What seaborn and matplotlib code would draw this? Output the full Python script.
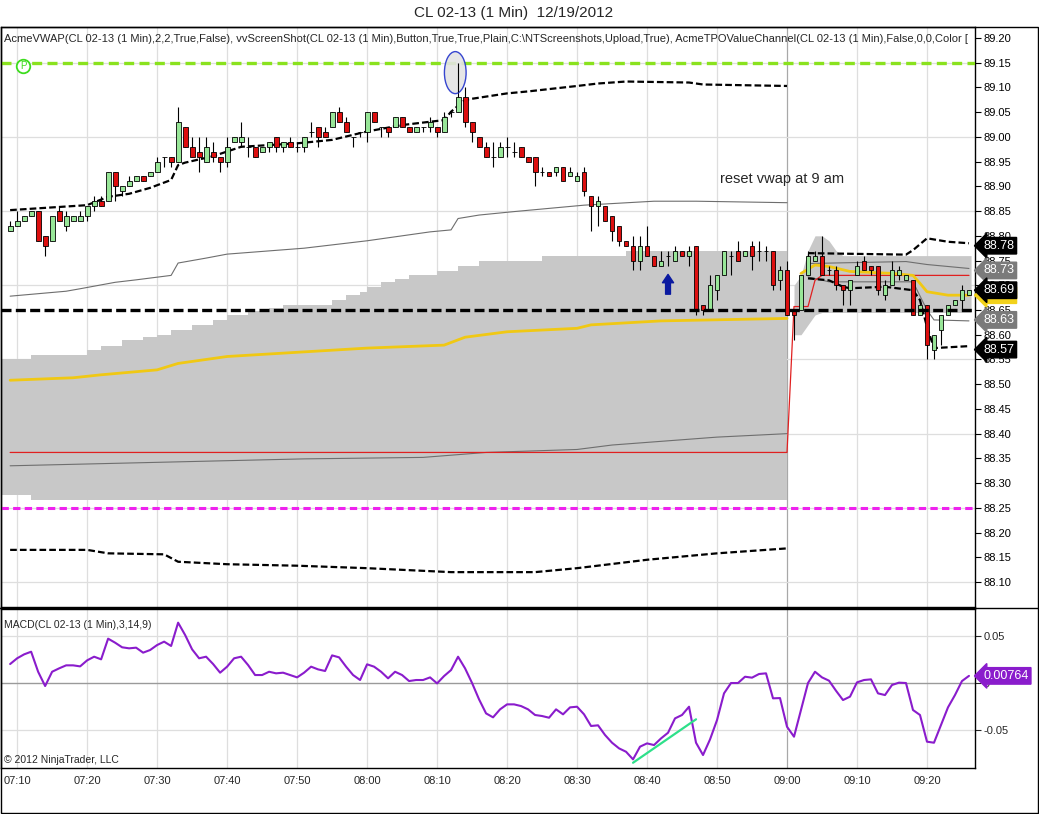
import matplotlib
matplotlib.use("Agg")
import matplotlib.pyplot as plt
import seaborn as sns
from matplotlib.patches import Ellipse, Rectangle
from matplotlib.lines import Line2D

sns.set_style("white")
plt.rcParams['font.family'] = ['Liberation Sans', 'DejaVu Sans']

# one bar per minute, minutes after 07:00 (07:09 .. 09:26)
minute = list(range(9, 147))

opens = [88.81, 88.82, 88.83, 88.84, 88.85, 88.80, 88.79, 88.85, 88.82, 88.83,
         88.83, 88.84, 88.86, 88.87, 88.87, 88.93, 88.89, 88.90, 88.91, 88.92,
         88.92, 88.93, 88.96, 88.96, 88.95, 89.02, 88.98, 88.97, 88.95, 88.97,
         88.96, 88.95, 88.99, 88.99, 88.98, 88.98, 88.97, 88.98, 89.00, 88.98,
         88.99, 88.98, 88.98, 89.01, 89.02, 89.01, 89.02, 89.05, 89.03, 89.00,
         89.01, 89.01, 89.05, 89.02, 89.02, 89.02, 89.04, 89.02, 89.01, 89.02,
         89.02, 89.02, 89.01, 89.05, 89.05, 89.08, 89.03, 89.00, 88.98, 88.96,
         88.96, 88.98, 88.97, 88.98, 88.96, 88.96, 88.93, 88.93, 88.93, 88.94,
         88.92, 88.91, 88.93, 88.88, 88.86, 88.86, 88.84, 88.82, 88.79, 88.78,
         88.75, 88.78, 88.76, 88.74, 88.76, 88.75, 88.77, 88.76, 88.78, 88.66,
         88.65, 88.69, 88.72, 88.76, 88.77, 88.76, 88.78, 88.77, 88.77, 88.77,
         88.71, 88.73, 88.65, 88.65, 88.72, 88.75, 88.76, 88.73, 88.73, 88.70,
         88.69, 88.72, 88.75, 88.74, 88.74, 88.68, 88.70, 88.72, 88.71, 88.71,
         88.64, 88.66, 88.57, 88.61, 88.64, 88.66, 88.67, 88.68]
highs = [88.83, 88.85, 88.84, 88.85, 88.85, 88.80, 88.84, 88.86, 88.85, 88.84,
         88.85, 88.86, 88.88, 88.88, 88.93, 88.93, 88.90, 88.92, 88.92, 88.92,
         88.93, 88.96, 88.96, 88.96, 89.06, 89.02, 89.00, 89.00, 89.00, 88.99,
         88.96, 89.00, 89.00, 89.03, 89.00, 88.98, 88.98, 88.99, 89.00, 88.99,
         89.00, 88.99, 89.00, 89.03, 89.02, 89.02, 89.05, 89.06, 89.04, 89.00,
         89.01, 89.05, 89.05, 89.02, 89.02, 89.04, 89.04, 89.02, 89.02, 89.02,
         89.04, 89.02, 89.05, 89.05, 89.15, 89.10, 89.03, 89.00, 88.99, 88.99,
         88.99, 89.00, 88.99, 88.98, 88.96, 88.96, 88.94, 88.93, 88.94, 88.94,
         88.94, 88.93, 88.94, 88.88, 88.88, 88.86, 88.84, 88.82, 88.79, 88.80,
         88.80, 88.82, 88.76, 88.77, 88.77, 88.78, 88.77, 88.78, 88.78, 88.66,
         88.72, 88.72, 88.77, 88.77, 88.79, 88.77, 88.79, 88.79, 88.78, 88.77,
         88.74, 88.75, 88.65, 88.72, 88.77, 88.77, 88.80, 88.74, 88.74, 88.70,
         88.71, 88.75, 88.76, 88.74, 88.74, 88.71, 88.75, 88.74, 88.72, 88.71,
         88.66, 88.66, 88.60, 88.64, 88.66, 88.67, 88.70, 88.69]
lows = [88.81, 88.82, 88.83, 88.84, 88.79, 88.76, 88.79, 88.83, 88.81, 88.83,
        88.83, 88.83, 88.85, 88.86, 88.87, 88.87, 88.88, 88.90, 88.91, 88.91,
        88.92, 88.93, 88.94, 88.94, 88.95, 88.98, 88.96, 88.93, 88.95, 88.95,
        88.93, 88.94, 88.99, 88.98, 88.96, 88.96, 88.97, 88.97, 88.97, 88.97,
        88.98, 88.97, 88.97, 89.00, 88.98, 89.00, 89.02, 89.03, 89.01, 88.98,
        89.00, 88.99, 89.03, 89.00, 89.00, 89.02, 89.02, 89.01, 89.01, 89.01,
        89.01, 89.00, 89.01, 89.04, 89.05, 89.02, 88.99, 88.98, 88.96, 88.94,
        88.96, 88.96, 88.96, 88.96, 88.95, 88.90, 88.92, 88.92, 88.92, 88.91,
        88.92, 88.91, 88.88, 88.81, 88.82, 88.83, 88.79, 88.78, 88.78, 88.73,
        88.73, 88.76, 88.74, 88.74, 88.74, 88.75, 88.76, 88.74, 88.64, 88.64,
        88.65, 88.67, 88.72, 88.72, 88.75, 88.76, 88.73, 88.75, 88.75, 88.69,
        88.69, 88.64, 88.59, 88.65, 88.72, 88.75, 88.72, 88.72, 88.69, 88.66,
        88.66, 88.72, 88.73, 88.72, 88.68, 88.67, 88.70, 88.71, 88.71, 88.64,
        88.64, 88.55, 88.55, 88.58, 88.64, 88.66, 88.65, 88.68]
closes = [88.82, 88.83, 88.84, 88.85, 88.79, 88.78, 88.84, 88.83, 88.84, 88.84,
          88.84, 88.86, 88.87, 88.86, 88.93, 88.90, 88.90, 88.91, 88.92, 88.91,
          88.93, 88.95, 88.96, 88.95, 89.03, 88.98, 88.96, 88.96, 88.98, 88.96,
          88.95, 88.98, 89.00, 89.00, 88.98, 88.96, 88.98, 88.99, 88.98, 88.99,
          88.98, 88.98, 89.00, 89.01, 89.00, 89.00, 89.05, 89.03, 89.01, 89.00,
          89.01, 89.05, 89.03, 89.02, 89.01, 89.04, 89.02, 89.01, 89.02, 89.02,
          89.03, 89.01, 89.04, 89.05, 89.08, 89.03, 89.01, 88.98, 88.96, 88.96,
          88.98, 88.98, 88.97, 88.96, 88.95, 88.93, 88.93, 88.92, 88.94, 88.91,
          88.93, 88.92, 88.89, 88.86, 88.87, 88.83, 88.81, 88.79, 88.78, 88.75,
          88.78, 88.76, 88.74, 88.75, 88.76, 88.77, 88.76, 88.77, 88.65, 88.65,
          88.70, 88.72, 88.77, 88.76, 88.75, 88.77, 88.76, 88.77, 88.77, 88.70,
          88.73, 88.64, 88.64, 88.72, 88.76, 88.76, 88.72, 88.73, 88.70, 88.69,
          88.71, 88.74, 88.73, 88.73, 88.69, 88.70, 88.73, 88.73, 88.72, 88.64,
          88.66, 88.58, 88.60, 88.64, 88.66, 88.67, 88.69, 88.69]

macd = [0.0202, 0.0263, 0.0305, 0.0333, 0.0120, -0.0032, 0.0120, 0.0156, 0.0188, 0.0188,
        0.0177, 0.0241, 0.0280, 0.0252, 0.0472, 0.0429, 0.0380, 0.0369, 0.0376, 0.0323,
        0.0351, 0.0404, 0.0440, 0.0394, 0.0642, 0.0511, 0.0358, 0.0263, 0.0280, 0.0202,
        0.0110, 0.0174, 0.0263, 0.0280, 0.0191, 0.0085, 0.0085, 0.0120, 0.0103, 0.0110,
        0.0085, 0.0060, 0.0110, 0.0174, 0.0145, 0.0128, 0.0294, 0.0273, 0.0174, 0.0085,
        0.0032, 0.0199, 0.0174, 0.0120, 0.0050, 0.0120, 0.0085, 0.0021, 0.0032, 0.0032,
        0.0060, -0.0004, 0.0074, 0.0138, 0.0280, 0.0156, 0.0000, -0.0174, -0.0323, -0.0365,
        -0.0280, -0.0227, -0.0227, -0.0245, -0.0280, -0.0340, -0.0351, -0.0369, -0.0280, -0.0333,
        -0.0259, -0.0252, -0.0333, -0.0457, -0.0450, -0.0553, -0.0635, -0.0695, -0.0731, -0.0812,
        -0.0677, -0.0642, -0.0660, -0.0589, -0.0529, -0.0376, -0.0340, -0.0252, -0.0635, -0.0766,
        -0.0600, -0.0394, -0.0110, 0.0000, 0.0000, 0.0067, 0.0057, 0.0096, 0.0103, -0.0163,
        -0.0160, -0.0465, -0.0571, -0.0287, 0.0000, 0.0120, 0.0060, 0.0025, -0.0082, -0.0181,
        -0.0145, 0.0007, 0.0032, 0.0039, -0.0110, -0.0128, -0.0021, 0.0004, 0.0000, -0.0287,
        -0.0340, -0.0624, -0.0635, -0.0447, -0.0259, -0.0128, 0.0021, 0.0076]

# session 1 vwap channel (vertices)
upper1_x = [9, 20, 23, 26, 29, 32, 33, 34, 38, 42, 50, 55, 60, 65, 71, 72, 74, 80, 83, 90, 93, 97, 106, 108, 120]
upper1_y = [88.852, 88.862, 88.879, 88.885, 88.897, 88.913, 88.943, 88.948, 88.961, 88.980, 88.987, 88.994,
            89.011, 89.024, 89.034, 89.051, 89.075, 89.088, 89.092, 89.103, 89.108, 89.112, 89.110, 89.106, 89.103]
lower1_x = [9, 20, 23, 31, 33, 40, 50, 60, 72, 84, 90, 100, 110, 120]
lower1_y = [88.165, 88.165, 88.158, 88.156, 88.141, 88.136, 88.133, 88.128, 88.120, 88.120, 88.128, 88.145, 88.158, 88.168]
thin_up1_x = [9, 17, 19, 24, 27, 32, 33, 37, 40, 51, 60, 69, 72, 73, 76, 81, 91, 101, 107, 120]
thin_up1_y = [88.678, 88.688, 88.693, 88.706, 88.711, 88.720, 88.745, 88.755, 88.763, 88.775, 88.790, 88.808,
              88.812, 88.835, 88.842, 88.849, 88.862, 88.870, 88.870, 88.867]
thin_lo1_x = [9, 21, 30, 51, 68, 77, 90, 95, 110, 120]
thin_lo1_y = [88.335, 88.339, 88.342, 88.349, 88.352, 88.362, 88.368, 88.377, 88.393, 88.400]
vwap1_x = [9, 18, 22, 30, 33, 40, 60, 71, 74, 80, 90, 92, 102, 120]
vwap1_y = [88.508, 88.513, 88.519, 88.529, 88.542, 88.556, 88.573, 88.579, 88.595, 88.606, 88.613, 88.620, 88.628, 88.633]
band1_x = [7.5, 12, 20, 22, 25, 28, 30, 32, 35, 38, 40, 43, 46, 48, 55, 57, 59, 60, 62, 64, 66, 70, 73, 76, 85, 97, 120]
band1_top = [88.551, 88.560, 88.569, 88.577, 88.589, 88.595, 88.600, 88.610, 88.620, 88.630, 88.640, 88.648, 88.655,
             88.660, 88.670, 88.680, 88.687, 88.697, 88.707, 88.713, 88.720, 88.728, 88.740, 88.750, 88.759, 88.769, 88.769]
band1_bot = [88.275] + [88.265] * 26

# session 2 (reset at 09:00)
red_x = [9, 120, 121, 123, 124, 125, 146]
red_y = [88.362, 88.362, 88.657, 88.657, 88.710, 88.720, 88.720]
vwap2_x = [122, 124, 126, 129, 135, 138, 139, 140, 143, 146]
vwap2_y = [88.724, 88.741, 88.738, 88.728, 88.724, 88.720, 88.704, 88.687, 88.680, 88.680]
upper2_x = [123, 137, 138, 140, 143, 146]
upper2_y = [88.765, 88.762, 88.771, 88.795, 88.788, 88.785]
lower2_x = [123, 126, 128, 129, 134, 138, 139, 140, 141, 146]
lower2_y = [88.714, 88.710, 88.697, 88.694, 88.697, 88.690, 88.670, 88.616, 88.573, 88.577]
thin_up2_x = [123, 137, 140, 146]
thin_up2_y = [88.744, 88.748, 88.742, 88.734]
thin_lo2_x = [123, 126, 138, 140, 141, 146]
thin_lo2_y = [88.717, 88.707, 88.707, 88.650, 88.630, 88.628]
band2_x = [121, 122, 123, 124, 125, 126, 127, 128, 146.3]
band2_top = [88.70, 88.72, 88.77, 88.80, 88.80, 88.79, 88.77, 88.76, 88.76]
band2_bot = [88.60, 88.60, 88.62, 88.64, 88.645, 88.645, 88.645, 88.645, 88.645]

tpo_high = 89.15
tpo_low = 88.25
tpo_poc = 88.65

tag_levels = [88.68, 88.78, 88.73, 88.69, 88.63, 88.57]
tag_texts = ['88.68', '88.78', '88.73', '88.69', '88.63', '88.57']
tag_colors = ['#f2d21b', 'black', '#7a7a7a', 'black', '#7a7a7a', 'black']

tick_minutes = [10, 20, 30, 40, 50, 60, 70, 80, 90, 100, 110, 120, 130, 140]
tick_labels = ['07:10', '07:20', '07:30', '07:40', '07:50', '08:00', '08:10',
               '08:20', '08:30', '08:40', '08:50', '09:00', '09:10', '09:20']
price_ticks = [88.10, 88.15, 88.20, 88.25, 88.30, 88.35, 88.40, 88.45, 88.50, 88.55, 88.60, 88.65,
               88.70, 88.75, 88.80, 88.85, 88.90, 88.95, 89.00, 89.05, 89.10, 89.15, 89.20]
grid_levels = [88.10, 88.25, 88.40, 88.55, 88.70, 88.85, 89.00, 89.15]

# the label line is cut off by the price scale in the original
indicator_text = ("AcmeVWAP(CL 02-13 (1 Min),2,2,True,False), vvScreenShot(CL 02-13 (1 Min),Button,True,True,"
                  "Plain,C:\\NTScreenshots,Upload,True), AcmeTPOValueChannel(CL 02-13 (1 Min),False,0,0,Color [")


fig = plt.figure(figsize=(10.39, 8.14), dpi=100)
ax = fig.add_axes([0.001, 0.2543, 0.9374, 0.7125])
mx = fig.add_axes([0.001, 0.0565, 0.9374, 0.1953], sharex=ax)

for a in (ax, mx):
    for t in tick_minutes:
        a.axvline(t, color='#a8a8a8' if t == 120 else '#dedede', lw=0.9, zorder=0)
for g in grid_levels:
    ax.axhline(g, color='#dedede', lw=0.9, zorder=0)

# value area bands
ax.fill_between(band1_x, band1_bot, band1_top, step='post', color='#c8c8c8', lw=0, zorder=1)
ax.fill_between(band2_x, band2_bot, band2_top, color='#c8c8c8', lw=0, zorder=1)

line_kw = dict(ax=ax, estimator=None, sort=False, legend=False)
for xs, ys in [(thin_up1_x, thin_up1_y), (thin_lo1_x, thin_lo1_y), (thin_up2_x, thin_up2_y), (thin_lo2_x, thin_lo2_y)]:
    sns.lineplot(x=xs, y=ys, color='#6e6e6e', lw=0.8, zorder=2, **line_kw)
sns.lineplot(x=red_x, y=red_y, color='#e02020', lw=0.9, zorder=2, **line_kw)
for xs, ys in [(vwap1_x, vwap1_y), (vwap2_x, vwap2_y)]:
    sns.lineplot(x=xs, y=ys, color='#f0c814', lw=2.0, zorder=2, **line_kw)
for xs, ys in [(upper1_x, upper1_y), (lower1_x, lower1_y), (upper2_x, upper2_y), (lower2_x, lower2_y)]:
    sns.lineplot(x=xs, y=ys, color='black', lw=1.6, linestyle=(0, (3, 1.4)), zorder=3, **line_kw)

# candles
for m, o, h, l, c in zip(minute, opens, highs, lows, closes):
    ax.vlines(m, l, h, color='black', lw=0.8, zorder=4)
    col = '#98e698' if c >= o else '#dd0f0f'
    ax.bar(m, c - o, bottom=o, width=0.7, color=col, edgecolor='black', lw=0.6, zorder=5)

ax.axhline(tpo_high, color='#8ae21e', lw=2.4, linestyle=(0, (3, 1.6)), zorder=6)
ax.axhline(tpo_low, color='#ee22ee', lw=2.2, linestyle=(0, (2.4, 1.4)), zorder=6)
ax.axhline(tpo_poc, color='black', lw=2.4, linestyle=(0, (3, 1.3)), zorder=6)

ax.add_patch(Ellipse((72.6, 89.13), 3.1, 0.085, fc='#e4e4e4', ec='#2233cc', lw=1, alpha=0.9, zorder=7))
ax.vlines(73, 89.09, 89.15, color='black', lw=0.8, zorder=7)
ax.annotate('', xy=(103, 88.722), xytext=(103, 88.682),
            arrowprops=dict(facecolor='#0b1aa0', edgecolor='#0b1aa0', width=3.5, headwidth=8, headlength=6),
            zorder=8)
ax.scatter([10.9], [89.143], s=95, facecolors='white', edgecolors='#3ddc1e', lw=1.3, zorder=8)
ax.text(10.9, 89.143, 'P', color='#3ddc1e', fontsize=7, ha='center', va='center', zorder=9)
ax.text(110.4, 88.915, 'reset vwap at 9 am', fontsize=10.5, ha='left', va='center', zorder=8)
ax.text(0.003, 0.988, indicator_text, transform=ax.transAxes, fontsize=8.0, va='top', ha='left',
        clip_on=True, zorder=9)

ax.set_xlim(7.7, 146.86)
ax.set_ylim(88.0495, 89.2222)
ax.set_yticks(price_ticks)
ax.set_yticklabels(['%.2f' % p for p in price_ticks])
ax.tick_params(axis='y', right=True, left=False, labelright=True, labelleft=False,
               length=4, direction='out', labelsize=8, pad=2, colors='black')
ax.tick_params(axis='x', labelbottom=False, length=0)
ax.set_xlabel('')
ax.set_ylabel('')

for lvl, txt, col in zip(tag_levels, tag_texts, tag_colors):
    ax.annotate(txt, xy=(1.0, lvl), xycoords=ax.get_yaxis_transform(), xytext=(6, 0),
                textcoords='offset points', va='center', ha='left', fontsize=9,
                color='white' if col != '#f2d21b' else '#8a7000',
                bbox=dict(boxstyle='larrow,pad=0.18', fc=col, ec=col), annotation_clip=False)

# MACD panel
mx.axhline(0, color='#9a9a9a', lw=1, zorder=1)
for g in [0.05, -0.05]:
    mx.axhline(g, color='#dedede', lw=0.9, zorder=0)
sns.lineplot(x=minute, y=macd, ax=mx, color='#8a1ccc', lw=1.5, estimator=None, sort=False, legend=False, zorder=3)
sns.lineplot(x=[98, 107], y=[-0.0848, -0.0386], ax=mx, color='#2ee08a', lw=1.6, estimator=None, sort=False,
             legend=False, zorder=4)
mx.set_ylim(-0.0904, 0.0787)
mx.set_yticks([0.05, 0, -0.05])
mx.set_yticklabels(['0.05', '0', '-0.05'])
mx.tick_params(axis='y', right=True, left=False, labelright=True, labelleft=False,
               length=4, direction='out', labelsize=8, pad=2)
mx.set_xticks(tick_minutes)
mx.set_xticklabels(tick_labels)
mx.tick_params(axis='x', length=0, labelsize=8, pad=6)
mx.set_xlabel('')
mx.set_ylabel('')
mx.text(0.003, 0.93, 'MACD(CL 02-13 (1 Min),3,14,9)', transform=mx.transAxes, fontsize=7.5, va='top')
mx.text(0.003, 0.02, '\u00a9 2012 NinjaTrader, LLC', transform=mx.transAxes, fontsize=7.5, va='bottom')
mx.annotate('0.00764', xy=(1.0, macd[-1]), xycoords=mx.get_yaxis_transform(), xytext=(6, 0),
            textcoords='offset points', va='center', ha='left', fontsize=9, color='white',
            bbox=dict(boxstyle='larrow,pad=0.18', fc='#8a1ccc', ec='#8a1ccc'), annotation_clip=False)

for a in (ax, mx):
    for s in a.spines.values():
        s.set_color('black')
        s.set_linewidth(1)

fig.add_artist(Rectangle((0.0005, 1 - 813 / 814), 1037.5 / 1039, (813 - 27) / 814, transform=fig.transFigure,
                         fill=False, ec='black', lw=1))
fig.add_artist(Line2D([0, 1], [1 - 608 / 814, 1 - 608 / 814], transform=fig.transFigure, color='black', lw=1))
fig.text(0.494, 1 - 13 / 814, 'CL 02-13 (1 Min)  12/19/2012', ha='center', va='center', fontsize=11)

fig.savefig('out.png', dpi=100)
